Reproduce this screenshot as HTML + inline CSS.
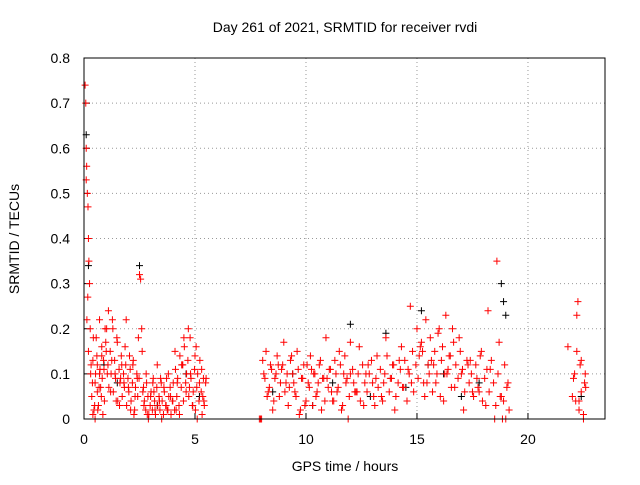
<!DOCTYPE html>
<html><head><meta charset="utf-8"><style>
body{margin:0;background:#fff;font-family:"Liberation Sans",sans-serif}
svg text{font-family:"Liberation Sans",sans-serif;font-size:14px;fill:#000}
</style></head><body>
<svg id="chart" width="640" height="480">
<text x="345" y="32" text-anchor="middle">Day 261 of 2021, SRMTID for receiver rvdi</text>
<text x="345" y="471" text-anchor="middle">GPS time / hours</text>
<text transform="translate(19,239) rotate(-90)" text-anchor="middle">SRMTID / TECUs</text>
<g id="grid"></g><g id="ticks"></g><g id="marks"></g>
<rect x="84" y="58" width="521" height="361" fill="none" stroke="#000"/>
</svg>
<script>
const xTicks=[0,5,10,15,20];
const yTicks=[0,0.1,0.2,0.3,0.4,0.5,0.6,0.7,0.8];
const yTickLabels=["0","0.1","0.2","0.3","0.4","0.5","0.6","0.7","0.8"];
const redHours=[0.05,0.08,0.1,0.12,0.15,0.18,0.2,0.22,0.25,0.1,0.13,0.17,0.2,0.28,0.3,0.35,0.4,0.45,0.5,0.55,0.6,0.65,0.7,0.75,0.8,0.85,0.9,0.95,0.4,0.5,0.6,0.7,0.8,1.0,1.1,1.2,1.3,1.4,1.5,1.6,1.7,1.8,1.9,1.05,1.25,1.45,1.65,1.85,2.0,2.1,2.2,2.3,2.4,2.05,2.25,2.45,2.5,2.55,2.6,2.65,2.7,2.8,2.9,3.0,3.1,3.2,3.3,3.4,3.5,3.6,3.7,3.8,3.9,2.85,3.15,3.45,3.75,4.0,4.1,4.2,4.3,4.4,4.5,4.6,4.7,4.8,4.9,5.0,5.1,5.2,5.3,5.4,5.5,4.15,4.45,4.75,5.05,5.35,7.9,7.95,8.0,8.1,8.2,8.3,8.4,8.5,8.6,8.7,8.8,8.9,9.0,9.1,9.2,9.3,9.4,9.5,9.6,9.7,9.8,9.9,10.0,10.1,10.2,10.3,10.4,10.5,10.6,10.7,10.8,10.9,11.0,11.1,11.2,11.3,11.4,11.5,11.6,11.7,11.8,11.9,12.0,8.25,8.75,9.25,9.75,10.25,10.75,11.25,11.75,12.0,12.2,12.4,12.6,12.8,13.0,13.2,13.4,13.6,13.8,14.0,14.2,14.4,14.6,14.8,12.3,12.7,13.1,13.5,13.9,14.3,14.7,15.0,15.1,15.2,15.3,15.4,15.5,15.6,15.7,15.8,15.9,16.0,16.1,16.2,16.3,16.4,15.15,15.45,15.75,16.05,16.35,16.5,16.7,16.9,17.1,17.3,17.5,17.7,17.9,18.1,18.3,18.5,18.7,18.9,19.1,16.6,17.0,17.4,17.8,18.2,18.6,18.8,18.85,19.0,21.8,22.0,22.1,22.2,22.3,22.4,22.5,22.6,22.15,22.35,22.55,22.25,22.45,22.6];
const redValues=[0.74,0.7,0.6,0.56,0.5,0.47,0.4,0.35,0.3,0.53,0.22,0.27,0.15,0.2,0.1,0.05,0.13,0.02,0.08,0.18,0.12,0.03,0.22,0.07,0.16,0.01,0.11,0.2,0.01,0.0,0.06,0.1,0.14,0.15,0.24,0.06,0.2,0.1,0.17,0.03,0.12,0.08,0.22,0.1,0.13,0.04,0.09,0.16,0.07,0.02,0.12,0.05,0.09,0.14,0.01,0.18,0.32,0.31,0.2,0.06,0.03,0.1,0.0,0.05,0.08,0.02,0.12,0.04,0.0,0.07,0.03,0.1,0.05,0.01,0.06,0.09,0.02,0.04,0.15,0.08,0.01,0.12,0.18,0.06,0.2,0.1,0.03,0.14,0.0,0.08,0.11,0.04,0.09,0.02,0.12,0.07,0.16,0.05,0.0,0.0,0.0,0.1,0.15,0.06,0.12,0.02,0.09,0.14,0.05,0.11,0.17,0.08,0.03,0.13,0.1,0.06,0.15,0.01,0.09,0.12,0.04,0.08,0.14,0.03,0.1,0.06,0.12,0.02,0.09,0.18,0.07,0.11,0.04,0.13,0.06,0.15,0.02,0.1,0.08,0.0,0.17,0.05,0.12,0.07,0.02,0.11,0.09,0.04,0.14,0.1,0.06,0.16,0.03,0.12,0.08,0.14,0.05,0.18,0.09,0.02,0.13,0.07,0.11,0.15,0.06,0.1,0.03,0.08,0.12,0.16,0.25,0.2,0.14,0.17,0.08,0.22,0.12,0.18,0.06,0.15,0.1,0.2,0.13,0.04,0.23,0.11,0.16,0.08,0.12,0.05,0.1,0.14,0.07,0.18,0.02,0.12,0.06,0.09,0.15,0.03,0.11,0.0,0.17,0.04,0.08,0.2,0.1,0.13,0.06,0.24,0.35,0.05,0.0,0.0,0.16,0.05,0.1,0.23,0.02,0.13,0.0,0.07,0.04,0.12,0.08,0.26];
const extraHours=[0.32,0.38,0.42,0.48,0.52,0.58,0.62,0.68,0.72,0.78,0.82,0.88,0.92,0.98,1.02,1.08,1.12,1.18,1.22,1.28,1.32,1.38,1.42,1.48,1.52,1.58,1.62,1.68,1.72,1.78,1.82,1.88,1.92,1.98,2.02,2.08,2.12,2.18,2.22,2.28,2.32,2.38,2.42,2.48,2.62,2.68,2.72,2.78,2.82,2.88,2.92,2.98,3.02,3.08,3.12,3.18,3.22,3.28,3.32,3.38,3.42,3.48,3.52,3.58,3.62,3.68,3.72,3.78,3.82,3.88,3.92,3.98,4.02,4.08,4.12,4.18,4.22,4.28,4.32,4.38,4.42,4.48,4.52,4.58,4.62,4.68,4.72,4.78,4.82,4.88,4.92,4.98,5.02,5.08,5.12,5.18,5.22,5.28,5.32,5.38,5.42,5.48,8.05,8.15,8.35,8.45,8.55,8.65,8.85,8.95,9.05,9.15,9.35,9.45,9.55,9.65,9.85,9.95,10.05,10.15,10.35,10.45,10.55,10.65,10.85,10.95,11.05,11.15,11.35,11.45,11.55,11.65,11.85,11.95,12.1,12.15,12.25,12.35,12.45,12.55,12.65,12.75,12.85,12.95,13.05,13.15,13.25,13.35,13.45,13.55,13.65,13.75,13.85,13.95,14.05,14.15,14.25,14.35,14.45,14.55,14.65,14.75,14.85,14.95,15.05,15.25,15.35,15.55,15.65,15.85,15.95,16.15,16.25,16.45,16.55,16.65,16.75,16.85,16.95,17.05,17.15,17.25,17.35,17.45,17.55,17.65,17.75,17.85,17.95,18.05,18.15,18.25,18.35,18.45,18.55,18.65,18.75,18.95,19.05,19.15,22.05,22.2,22.3,22.4,22.5,22.58];
const extraValues=[0.12,0.08,0.18,0.03,0.1,0.14,0.02,0.07,0.11,0.05,0.09,0.13,0.04,0.17,0.2,0.12,0.07,0.15,0.1,0.22,0.06,0.13,0.09,0.18,0.04,0.11,0.08,0.14,0.05,0.1,0.07,0.12,0.03,0.09,0.06,0.11,0.04,0.08,0.13,0.02,0.07,0.1,0.05,0.09,0.15,0.07,0.04,0.02,0.08,0.05,0.01,0.03,0.06,0.02,0.09,0.04,0.01,0.07,0.03,0.05,0.02,0.08,0.04,0.01,0.06,0.03,0.09,0.02,0.05,0.07,0.01,0.04,0.08,0.02,0.11,0.05,0.09,0.03,0.14,0.07,0.12,0.04,0.16,0.08,0.1,0.13,0.05,0.18,0.09,0.03,0.06,0.11,0.02,0.07,0.1,0.04,0.13,0.06,0.01,0.09,0.03,0.08,0.13,0.09,0.07,0.11,0.04,0.1,0.08,0.12,0.06,0.1,0.14,0.08,0.05,0.11,0.09,0.03,0.12,0.07,0.1,0.05,0.08,0.13,0.04,0.09,0.11,0.06,0.1,0.07,0.12,0.03,0.09,0.05,0.11,0.08,0.06,0.1,0.04,0.12,0.08,0.06,0.1,0.13,0.05,0.09,0.07,0.11,0.04,0.1,0.14,0.06,0.09,0.12,0.05,0.08,0.11,0.07,0.13,0.04,0.1,0.08,0.06,0.12,0.09,0.15,0.05,0.1,0.13,0.08,0.19,0.16,0.1,0.14,0.07,0.17,0.12,0.09,0.15,0.11,0.06,0.13,0.08,0.1,0.05,0.12,0.07,0.14,0.04,0.09,0.11,0.06,0.13,0.08,0.03,0.1,0.05,0.12,0.07,0.02,0.09,0.15,0.04,0.06,0.01,0.1,0.03,0.06,0.09,0.03,0.05,0.02];
const blackHours=[0.1,0.2,0.9,1.5,2.5,3.3,4.6,5.2,8.5,9.4,10.3,11.2,12.0,12.9,13.6,14.5,15.2,15.5,16.2,17.0,17.8,18.8,18.9,19.0,22.4];
const blackValues=[0.63,0.34,0.12,0.08,0.34,0.03,0.1,0.05,0.06,0.1,0.03,0.08,0.21,0.05,0.19,0.07,0.24,0.12,0.1,0.05,0.08,0.3,0.26,0.23,0.05];
const svg=document.getElementById('chart');
const NS='http://www.w3.org/2000/svg';
const X0=84,X1=605,Y0=419,Y1=58,XMAX=23.47,YMAX=0.8;
function xs(v){return X0+(X1-X0)*v/XMAX}
function ys(v){return Y0-(Y0-Y1)*v/YMAX}
function mk(t,a,p){const e=document.createElementNS(NS,t);for(const k in a)e.setAttribute(k,a[k]);document.getElementById(p).appendChild(e);return e}
yTicks.forEach((v,i)=>{
 if(i>0&&i<yTicks.length-1){const g=mk('line',{x1:X0,x2:X1,y1:ys(v),y2:ys(v),stroke:'#999','stroke-dasharray':'1,3'},'grid');
 
 }
 const t=mk('line',{x1:X0,x2:X0+6,y1:ys(v),y2:ys(v),stroke:'#000'},'ticks');
 
 
 const l=mk('text',{x:X0-14,y:ys(v)+5,'text-anchor':'end'},'ticks');l.textContent=yTickLabels[i];
 
 
});
xTicks.forEach(v=>{
 if(v>0){const g=mk('line',{x1:xs(v),x2:xs(v),y1:Y0,y2:Y1,stroke:'#999','stroke-dasharray':'1,3'},'grid');
 
 }
 const t=mk('line',{x1:xs(v),x2:xs(v),y1:Y0,y2:Y0-6,stroke:'#000'},'ticks');
 
 
 const l=mk('text',{x:xs(v),y:Y0+25,'text-anchor':'middle'},'ticks');l.textContent=String(v);
 
 
});
function plus(h,v,c,name){const x=xs(h),y=ys(v);
 const p=mk('path',{d:`M${x-3.5},${y}h7M${x},${y-3.5}v7`,stroke:c,'stroke-width':1,fill:'none'},'marks');
 
 }
blackHours.forEach((h,i)=>plus(h,blackValues[i],'#000','black-point'));
redHours.forEach((h,i)=>plus(h,redValues[i],'#f00','red-point'));
extraHours.forEach((h,i)=>plus(h,extraValues[i],'#f00','red-point'));
</script>
</body></html>
